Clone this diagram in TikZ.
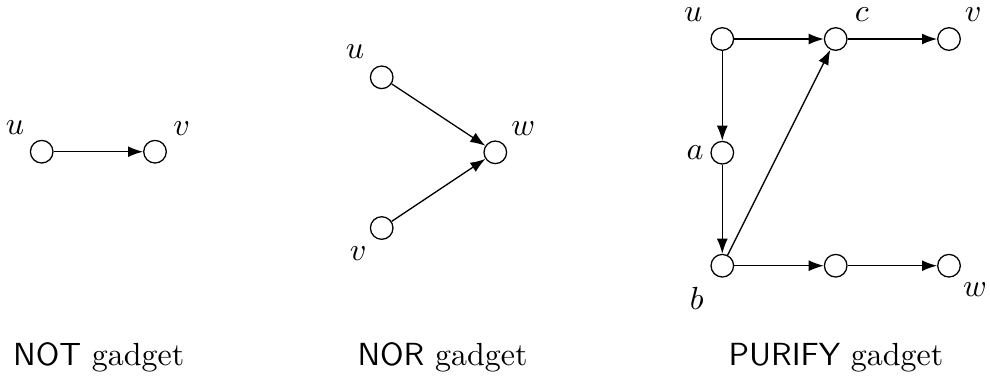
\documentclass[tikz,border=0pt]{standalone}
\usetikzlibrary{arrows.meta}
\tikzset{
  vtx/.style={circle,draw,line width=0.4pt,minimum size=7.06pt,inner sep=0pt},
  arr/.style={line width=0.4pt,-{Latex[length=4.7pt,width=3.4pt]}},
  lbl/.style={inner sep=0pt},
  captext/.style={anchor=base,inner sep=0pt}
}
\begin{document}
\begin{tikzpicture}[x=0.3125pt,y=-0.3125pt]
\useasboundingbox (0,0) rectangle (990,379);
% NOT gadget
\node[vtx] (nu) at (41.7,151.7) {};
\node[vtx] (nv) at (155,151.7) {};
\node[lbl] (nul) at (15,128) {$u$};
\node[lbl] (nvl) at (181.7,128.3) {$v$};
\draw[arr] (nu) -- (nv);
\node[captext] (ncap) at (98.7,365.5) {\textsf{NOT} gadget};
% NOR gadget
\node[vtx] (ru) at (381.7,77.3) {};
\node[vtx] (rw) at (495.3,152.3) {};
\node[vtx] (rv) at (381.7,228) {};
\node[lbl] (rul) at (355,51.7) {$u$};
\node[lbl] (rwl) at (523.3,128.3) {$w$};
\node[lbl] (rvl) at (358.3,253.3) {$v$};
\draw[arr] (ru) -- (rw);
\draw[arr] (rv) -- (rw);
\node[captext] (rcap) at (442.5,365.5) {\textsf{NOR} gadget};
% PURIFY gadget
\node[vtx] (pu) at (722.3,39) {};
\node[vtx] (pc) at (835.7,39) {};
\node[vtx] (pv) at (949,39) {};
\node[vtx] (pa) at (722.3,152.7) {};
\node[vtx] (pb) at (722.3,265.7) {};
\node[vtx] (pm) at (835.7,265.7) {};
\node[vtx] (pw) at (949,265.7) {};
\node[lbl] (pul) at (693.3,15) {$u$};
\node[lbl] (pcl) at (861.7,15) {$c$};
\node[lbl] (pvl) at (973.3,15) {$v$};
\node[lbl] (pal) at (695,152.7) {$a$};
\node[lbl] (pbl) at (696.7,298.3) {$b$};
\node[lbl] (pwl) at (975,290) {$w$};
\draw[arr] (pu) -- (pc);
\draw[arr] (pc) -- (pv);
\draw[arr] (pu) -- (pa);
\draw[arr] (pa) -- (pb);
\draw[arr] (pb) -- (pc);
\draw[arr] (pb) -- (pm);
\draw[arr] (pm) -- (pw);
\node[captext] (pcap) at (836,365.5) {\textsf{PURIFY} gadget};
\end{tikzpicture}
\end{document}
